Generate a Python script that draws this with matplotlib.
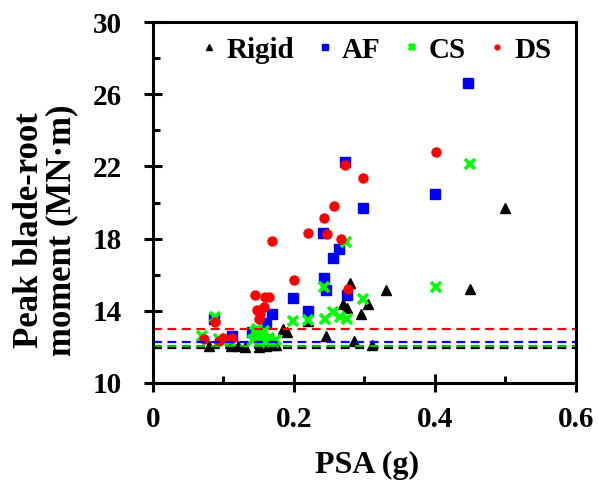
import matplotlib
matplotlib.use("Agg")
import matplotlib.pyplot as plt
from matplotlib.ticker import MultipleLocator

plt.rcParams['font.family'] = ['Liberation Serif', 'DejaVu Serif']
plt.rcParams['font.weight'] = 'bold'

# Rigid
rigid_x = [0.08, 0.11, 0.12, 0.13, 0.15, 0.16, 0.17, 0.175, 0.185, 0.19, 0.22, 0.245,
           0.27, 0.275, 0.28, 0.285, 0.295, 0.305, 0.31, 0.33, 0.45, 0.50]
rigid_y = [12.05, 12.05, 12.05, 12.0, 12.0, 12.05, 12.1, 12.1, 13.0, 12.85, 13.45, 12.6,
           14.4, 14.15, 15.55, 12.3, 13.8, 14.4, 12.1, 15.15, 15.2, 19.7]

# AF
af_x = [0.087, 0.112, 0.14, 0.161, 0.169, 0.199, 0.22, 0.242, 0.245, 0.241, 0.256,
        0.264, 0.272, 0.275, 0.298, 0.40, 0.447]
af_y = [13.55, 12.6, 12.8, 13.3, 13.8, 14.7, 14.0, 15.8, 15.15, 18.3, 16.95,
        17.45, 22.25, 14.9, 19.7, 20.45, 26.6]

# CS
cs_x = [0.07, 0.088, 0.093, 0.109, 0.142, 0.145, 0.148, 0.15, 0.152, 0.155, 0.158, 0.16,
        0.165, 0.17, 0.175, 0.199, 0.22, 0.242, 0.244, 0.256, 0.265, 0.274, 0.275, 0.298,
        0.401, 0.45]
cs_y = [12.6, 13.65, 12.45, 12.3, 12.4, 12.8, 13.0, 12.2, 12.6, 12.4, 12.9, 12.3,
        12.5, 12.2, 12.4, 13.42, 13.48, 15.33, 13.57, 13.95, 13.68, 17.8, 13.55, 14.68,
        15.33, 22.15]

# DS
ds_x = [0.072, 0.088, 0.093, 0.10, 0.112, 0.144, 0.147, 0.15, 0.152, 0.157, 0.159, 0.165,
        0.169, 0.20, 0.22, 0.243, 0.247, 0.257, 0.266, 0.273, 0.276, 0.298, 0.401]
ds_y = [12.45, 13.4, 12.3, 12.5, 12.5, 14.9, 14.05, 13.55, 13.8, 14.2, 14.75, 14.75,
        17.85, 15.7, 18.3, 19.15, 18.25, 19.8, 18.0, 22.1, 15.2, 21.35, 22.8]

# baseline (no earthquake) moments
base_rigid = 11.93
base_af = 12.25
base_cs = 12.05
base_ds = 13.0

xticks = [0, 0.2, 0.4, 0.6]
xtick_labels = ['0', '0.2', '0.4', '0.6']
yticks = [10, 14, 18, 22, 26, 30]
ytick_labels = ['10', '14', '18', '22', '26', '30']

fig = plt.figure(figsize=(5.99, 4.84), dpi=100)
ax = fig.add_axes([0.2554, 0.2087, 0.7062, 0.7458])

ax.plot(rigid_x, rigid_y, ls='none', marker='^', color='black', ms=7, label='Rigid')
ax.plot(af_x, af_y, ls='none', marker='s', color='#0000FF', ms=6.5, label='AF')
ax.plot(cs_x, cs_y, ls='none', marker='x', color='#00FF00', ms=6.5, mew=2.6, label='CS')
ax.plot(ds_x, ds_y, ls='none', marker='o', color='#FF0000', ms=7.5, mec='none', label='DS')

dash = (4, 2.5)
ax.axhline(base_rigid, color='black', lw=1.6, dashes=dash)
ax.axhline(base_cs, color='#00C000', lw=1.6, dashes=dash)
ax.axhline(base_af, color='#0000FF', lw=1.6, dashes=dash)
ax.axhline(base_ds, color='#FF0000', lw=1.6, dashes=dash)

ax.set_xlim(0, 0.6)
ax.set_ylim(10, 30)
ax.set_xticks(xticks)
ax.set_xticklabels(xtick_labels, fontsize=21, fontweight='bold')
ax.set_yticks(yticks)
ax.set_yticklabels(ytick_labels, fontsize=21, fontweight='bold')
ax.xaxis.set_minor_locator(MultipleLocator(0.1))
ax.yaxis.set_minor_locator(MultipleLocator(2))
ax.tick_params(which='major', direction='inout', length=13, width=2.2)
ax.tick_params(which='minor', direction='in', length=5, width=2.2)
ax.tick_params(axis='x', which='major', pad=10)
ax.tick_params(axis='y', which='major', pad=16)
for s in ax.spines.values():
    s.set_linewidth(2.2)

ax.set_xlabel('PSA (g)', fontsize=23, fontweight='bold')
ax.xaxis.set_label_coords(0.507, -0.188)
ax.set_ylabel('Peak blade-root\nmoment (MN·m)', fontsize=25, fontweight='bold',
              linespacing=0.95)
ax.yaxis.set_label_coords(-0.177, 0.424)

leg = ax.legend(loc='upper center', ncol=4, frameon=False, markerscale=0.6,
                prop={'size': 21, 'weight': 'bold'}, handletextpad=0.1,
                columnspacing=0.55, handlelength=1.0, borderaxespad=0.1,
                bbox_to_anchor=(0.52, 1.0))

fig.savefig('out.png', dpi=100)
